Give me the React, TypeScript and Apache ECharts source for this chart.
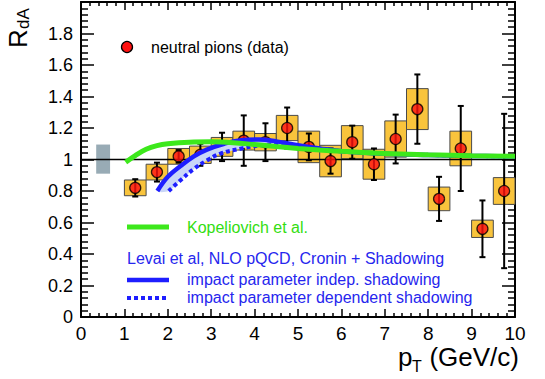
import React, { useEffect, useRef } from "react";
import * as echarts from "echarts";

// data: neutral pions
const ptValues = [1.25, 1.75, 2.25, 2.75, 3.25, 3.75, 4.25, 4.75, 5.25, 5.75, 6.25, 6.75, 7.25, 7.75, 8.25, 8.75, 9.25, 9.75];
const rdaValues = [0.82, 0.92, 1.02, 1.03, 1.08, 1.12, 1.11, 1.2, 1.08, 0.99, 1.11, 0.97, 1.13, 1.32, 0.75, 1.07, 0.56, 0.8];
const statErr = [0.055, 0.06, 0.04, 0.07, 0.09, 0.16, 0.12, 0.13, 0.085, 0.08, 0.105, 0.1, 0.155, 0.22, 0.14, 0.27, 0.18, 0.49];
const systErr = [0.05, 0.05, 0.05, 0.055, 0.06, 0.06, 0.055, 0.08, 0.1, 0.1, 0.105, 0.095, 0.115, 0.13, 0.075, 0.11, 0.055, 0.085];
const binHalfWidth = 0.25;

// normalization uncertainty box
const normBox = { x0: 0.35, x1: 0.67, y0: 0.91, y1: 1.095 };

// theory curves
const kopeliovich = [[1.03, 0.983], [1.25, 1.025], [1.5, 1.065], [1.75, 1.088], [2, 1.1], [2.5, 1.11], [3, 1.112], [3.5, 1.107], [4, 1.095], [4.5, 1.082], [5, 1.07], [5.5, 1.06], [6, 1.052], [7, 1.038], [8, 1.03], [9, 1.024], [10, 1.02]];
const levaiIndep = [[1.76, 0.8], [2, 0.89], [2.3, 0.96], [2.6, 1.02], [2.9, 1.063], [3.3, 1.1], [3.7, 1.123], [4.1, 1.127], [4.5, 1.115], [5, 1.09], [5.5, 1.07], [6, 1.053], [7, 1.037], [8, 1.029], [9, 1.023], [10, 1.019]];
const levaiDep = [[2.02, 0.8], [2.3, 0.87], [2.6, 0.94], [2.9, 0.994], [3.2, 1.036], [3.7, 1.07], [4.1, 1.088], [4.5, 1.097], [5, 1.085], [5.5, 1.068], [6, 1.053], [7, 1.037], [8, 1.029], [9, 1.023], [10, 1.019]];

const xTicks = [0, 1, 2, 3, 4, 5, 6, 7, 8, 9, 10];
const yTickLabels = ["0", "0.2", "0.4", "0.6", "0.8", "1", "1.2", "1.4", "1.6", "1.8", ""];

const FONT = "'Liberation Sans', Arial, Helvetica, sans-serif";
const GREEN = "#3de81c";
const BLUE = "#1e1eff";
const BLUE_TEXT = "#2626ee";

export default function App() {
  const ref = useRef<HTMLDivElement>(null);
  useEffect(() => {
    if (!ref.current) return;
    const chart = echarts.init(ref.current, undefined, { renderer: "svg" });

    const points = ptValues.map((x, i) => [x, rdaValues[i], statErr[i], systErr[i]]);

    const axisCommon = {
      type: "value" as const,
      axisLine: { show: true, onZero: false, lineStyle: { color: "#000", width: 2 } },
      splitLine: { show: false },
    };

    const option: any = {
      animation: false,
      grid: { left: 81, right: 30, top: 2, bottom: 62, containLabel: false },
      xAxis: [
        {
          ...axisCommon,
          min: 0,
          max: 10,
          interval: 1,
          position: "bottom",
          axisTick: { show: true, inside: true, length: 8, lineStyle: { color: "#000", width: 1.5 } },
          minorTick: { show: true, splitNumber: 5, length: 4, lineStyle: { color: "#000", width: 1.5 } },
          axisLabel: {
            show: true,
            margin: 7,
            fontSize: 19,
            color: "#000",
            fontFamily: FONT,
            formatter: (v: number) => String(xTicks[Math.round(v)]),
          },
        },
        {
          ...axisCommon,
          min: 0,
          max: 10,
          interval: 1,
          position: "top",
          axisTick: { show: true, inside: true, length: 8, lineStyle: { color: "#000", width: 1.5 } },
          minorTick: { show: true, splitNumber: 5, length: 4, lineStyle: { color: "#000", width: 1.5 } },
          axisLabel: { show: false },
        },
      ],
      yAxis: [
        {
          ...axisCommon,
          min: 0,
          max: 2,
          interval: 0.2,
          position: "left",
          axisTick: { show: true, inside: true, length: 13, lineStyle: { color: "#000", width: 1.5 } },
          minorTick: { show: true, splitNumber: 5, length: 7, lineStyle: { color: "#000", width: 1.5 } },
          axisLabel: {
            show: true,
            margin: 8,
            fontSize: 18,
            color: "#000",
            fontFamily: FONT,
            formatter: (v: number) => yTickLabels[Math.round(v * 5)],
          },
        },
        {
          ...axisCommon,
          min: 0,
          max: 2,
          interval: 0.2,
          position: "right",
          axisTick: { show: true, inside: true, length: 13, lineStyle: { color: "#000", width: 1.5 } },
          minorTick: { show: true, splitNumber: 5, length: 7, lineStyle: { color: "#000", width: 1.5 } },
          axisLabel: { show: false },
        },
      ],
      series: [
        {
          type: "custom",
          name: "norm",
          z: 1,
          data: [[normBox.x0, normBox.y0, normBox.x1, normBox.y1]],
          renderItem: (params: any, api: any) => {
            const p1 = api.coord([api.value(0), api.value(3)]);
            const p2 = api.coord([api.value(2), api.value(1)]);
            return {
              type: "rect",
              shape: { x: p1[0], y: p1[1], width: p2[0] - p1[0], height: p2[1] - p1[1] },
              style: { fill: "#98abb5" },
            };
          },
        },
        {
          type: "custom",
          name: "syst",
          z: 2,
          data: points,
          renderItem: (params: any, api: any) => {
            const x = api.value(0), y = api.value(1), s = api.value(3);
            const p1 = api.coord([x - binHalfWidth, y + s]);
            const p2 = api.coord([x + binHalfWidth, y - s]);
            return {
              type: "rect",
              shape: { x: p1[0], y: p1[1], width: p2[0] - p1[0], height: p2[1] - p1[1] },
              style: { fill: "#f9c43c", stroke: "#4a4a4a", lineWidth: 1 },
            };
          },
        },
        {
          type: "line",
          name: "unity",
          z: 3,
          data: [[0, 1], [10, 1]],
          symbol: "none",
          lineStyle: { color: "#000", width: 1.6 },
        },
        {
          type: "custom",
          name: "stat",
          z: 4,
          data: points,
          renderItem: (params: any, api: any) => {
            const x = api.value(0), y = api.value(1), e = api.value(2);
            const top = api.coord([x, Math.min(y + e, 2)]);
            const bot = api.coord([x, Math.max(y - e, 0)]);
            const cap = 3;
            const st = { stroke: "#000", lineWidth: 2 };
            return {
              type: "group",
              children: [
                { type: "line", shape: { x1: top[0], y1: top[1], x2: bot[0], y2: bot[1] }, style: st },
                { type: "line", shape: { x1: top[0] - cap, y1: top[1], x2: top[0] + cap, y2: top[1] }, style: st },
                { type: "line", shape: { x1: bot[0] - cap, y1: bot[1], x2: bot[0] + cap, y2: bot[1] }, style: st },
              ],
            };
          },
        },
        {
          type: "scatter",
          name: "neutral pions (data)",
          z: 5,
          data: points.map((p) => [p[0], p[1]]),
          symbol: "circle",
          symbolSize: 11,
          itemStyle: { color: "#ff1010", borderColor: "#000", borderWidth: 1.3 },
        },
        {
          type: "custom",
          name: "band",
          z: 6,
          data: [[0]],
          renderItem: (params: any, api: any) => {
            const pts = levaiIndep
              .filter((p) => p[0] <= 5)
              .map((p) => api.coord(p))
              .concat(levaiDep.filter((p) => p[0] <= 5).slice().reverse().map((p) => api.coord(p)));
            return {
              type: "polygon",
              shape: { points: pts, smooth: 0.3 },
              style: { fill: "#c9d6f7" },
            };
          },
        },
        {
          type: "line",
          name: "impact parameter dependent shadowing",
          z: 7,
          data: levaiDep,
          smooth: 0.4,
          symbol: "none",
          lineStyle: { color: BLUE, width: 4, type: [4, 3] },
        },
        {
          type: "line",
          name: "impact parameter indep. shadowing",
          z: 8,
          data: levaiIndep,
          smooth: 0.4,
          symbol: "none",
          lineStyle: { color: BLUE, width: 4.5 },
        },
        {
          type: "line",
          name: "Kopeliovich et al.",
          z: 9,
          data: kopeliovich,
          smooth: 0.4,
          symbol: "none",
          lineStyle: { color: GREEN, width: 5 },
        },
      ],
      graphic: [
        // y axis title R_dA (rotated)
        {
          type: "group",
          x: 0,
          y: 48,
          rotation: Math.PI / 2,
          children: [
            { type: "text", x: 0, y: 18, style: { text: "R", font: `26px ${FONT}`, fill: "#000", verticalAlign: "middle", align: "left" } },
            { type: "text", x: 19, y: 23, style: { text: "dA", font: `17px ${FONT}`, fill: "#000", verticalAlign: "middle", align: "left" } },
          ],
        },
        // x axis title p_T (GeV/c)
        { type: "text", x: 398, y: 357, style: { text: "p", font: `26px ${FONT}`, fill: "#000", verticalAlign: "middle", align: "left" } },
        { type: "text", x: 412, y: 366, style: { text: "T", font: `16px ${FONT}`, fill: "#000", verticalAlign: "middle", align: "left" } },
        { type: "text", x: 519, y: 357, style: { text: "(GeV/c)", font: `26px ${FONT}`, fill: "#000", verticalAlign: "middle", align: "right" } },
        // legend
        { type: "circle", shape: { cx: 127, cy: 47, r: 5.5 }, style: { fill: "#ff1010", stroke: "#000", lineWidth: 1.3 } },
        { type: "text", x: 151, y: 47, style: { text: "neutral pions (data)", font: `16px ${FONT}`, fill: "#000", verticalAlign: "middle" } },
        { type: "line", shape: { x1: 127, y1: 227, x2: 169, y2: 227 }, style: { stroke: GREEN, lineWidth: 5 } },
        { type: "text", x: 187, y: 227, style: { text: "Kopeliovich et al.", font: `16px ${FONT}`, fill: "#33dd11", verticalAlign: "middle" } },
        { type: "text", x: 127, y: 258, style: { text: "Levai et al, NLO pQCD, Cronin + Shadowing", font: `16px ${FONT}`, fill: BLUE_TEXT, verticalAlign: "middle" } },
        { type: "line", shape: { x1: 127, y1: 280, x2: 169, y2: 280 }, style: { stroke: BLUE, lineWidth: 4.5 } },
        { type: "text", x: 187, y: 279, style: { text: "impact parameter indep. shadowing", font: `16px ${FONT}`, fill: BLUE_TEXT, verticalAlign: "middle" } },
        { type: "line", shape: { x1: 127, y1: 298, x2: 169, y2: 298 }, style: { stroke: BLUE, lineWidth: 4, lineDash: [4, 3] } },
        { type: "text", x: 187, y: 297, style: { text: "impact parameter dependent shadowing", font: `16px ${FONT}`, fill: BLUE_TEXT, verticalAlign: "middle" } },
      ],
    };
    chart.setOption(option);
    return () => chart.dispose();
  }, []);
  return (
    <div
      ref={ref}
      style={{ position: "fixed", left: 0, top: 0, width: 545, height: 379, background: "#fff" }}
    />
  );
}
